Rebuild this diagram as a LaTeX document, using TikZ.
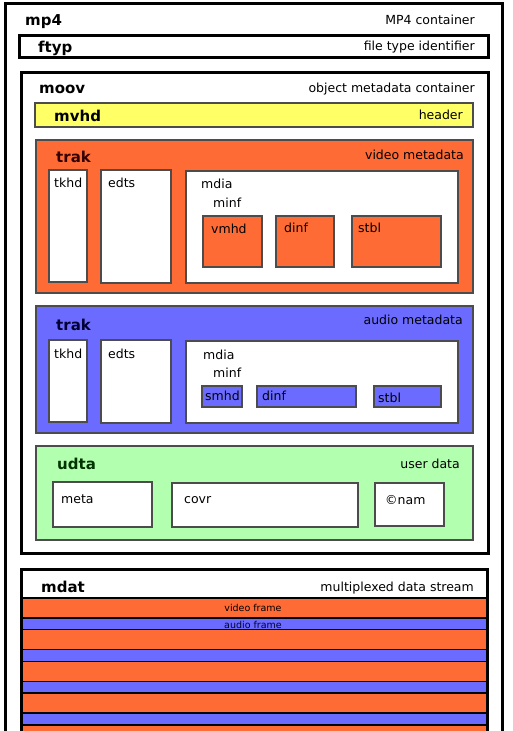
\documentclass[tikz,border=0pt]{standalone}
\usepackage{fontspec}
\setmainfont{DejaVu Sans}
\usepackage{tikz}
\definecolor{vidorange}{HTML}{FF6B35}
\definecolor{audblue}{HTML}{6B6BFF}
\definecolor{usrgreen}{HTML}{B3FFB0}
\definecolor{hdyellow}{HTML}{FFFF66}

\begin{document}
\begin{tikzpicture}[x=1pt,y=-1pt,
  outerbox/.style={draw=black,line width=3pt,fill=white},
  innerbox/.style={draw=black!70,line width=1.2pt},
  boxtitle/.style={anchor=base west,inner sep=0pt,font=\fontsize{15}{15}\selectfont\bfseries},
  subtitle/.style={anchor=base west,inner sep=0pt,font=\fontsize{12.5}{12.5}\selectfont},
  boxdesc/.style={anchor=base east,inner sep=0pt,font=\fontsize{12.5}{12.5}\selectfont},
  framelbl/.style={anchor=base,inner sep=0pt,font=\fontsize{9.5}{9.5}\selectfont}]
\useasboundingbox (0,0) rectangle (512,731);
\clip (0,0) rectangle (512,731);

% mp4 container
\draw[outerbox] (5,3) rectangle (502,760);
\node[boxtitle] (mp4) at (25,25) {mp4};
\node[boxdesc] (mp4desc) at (475,24) {MP4 container};

% ftyp
\draw[outerbox] (19,35) rectangle (488,57);
\node[boxtitle] (ftyp) at (38,52) {ftyp};
\node[boxdesc] (ftypdesc) at (475,50) {file type identifier};

% moov
\draw[outerbox] (21,72) rectangle (488,553);
\node[boxtitle] (moov) at (39,93) {moov};
\node[boxdesc] (moovdesc) at (475,92) {object metadata container};

% mvhd
\draw[innerbox,fill=hdyellow] (35,103) rectangle (473,127);
\node[boxtitle] (mvhd) at (54,121) {mvhd};
\node[boxdesc] (mvhddesc) at (463,119) {header};

% video trak
\draw[innerbox,fill=vidorange] (36,140) rectangle (473,293);
\node[boxtitle,text=black!80!red] (vtrak) at (56,162) {trak};
\node[boxdesc] (vtrakdesc) at (464,159) {video metadata};
\draw[innerbox,fill=white] (49,170) rectangle (87,282);
\node[subtitle] (vtkhd) at (54,187) {tkhd};
\draw[innerbox,fill=white] (101,170) rectangle (171,283);
\node[subtitle] (vedts) at (108,187) {edts};
\draw[innerbox,fill=white] (186,171) rectangle (458,283);
\node[subtitle] (vmdia) at (201,188) {mdia};
\node[subtitle] (vminf) at (213,207) {minf};
\draw[innerbox,fill=vidorange] (203,216) rectangle (262,267);
\node[subtitle] (vmhd) at (211,233) {vmhd};
\draw[innerbox,fill=vidorange] (276,216) rectangle (334,267);
\node[subtitle] (vdinf) at (284,232) {dinf};
\draw[innerbox,fill=vidorange] (352,216) rectangle (441,267);
\node[subtitle] (vstbl) at (358,232) {stbl};

% audio trak
\draw[innerbox,fill=audblue] (36,306) rectangle (473,433);
\node[boxtitle,text=black!80!blue] (atrak) at (56,330) {trak};
\node[boxdesc] (atrakdesc) at (463,324) {audio metadata};
\draw[innerbox,fill=white] (49,340) rectangle (87,422);
\node[subtitle] (atkhd) at (54,358) {tkhd};
\draw[innerbox,fill=white] (101,340) rectangle (171,423);
\node[subtitle] (aedts) at (108,358) {edts};
\draw[innerbox,fill=white] (186,341) rectangle (458,423);
\node[subtitle] (amdia) at (203,359) {mdia};
\node[subtitle] (aminf) at (213,377) {minf};
\draw[innerbox,fill=audblue] (202,386) rectangle (242,407);
\node[subtitle] (smhd) at (205,400) {smhd};
\draw[innerbox,fill=audblue] (257,386) rectangle (356,407);
\node[subtitle] (adinf) at (262,400) {dinf};
\draw[innerbox,fill=audblue] (374,386) rectangle (441,407);
\node[subtitle] (astbl) at (378,402) {stbl};

% udta
\draw[innerbox,fill=usrgreen] (36,446) rectangle (473,540);
\node[boxtitle,text=black!80!green] (udta) at (57,469) {udta};
\node[boxdesc] (udtadesc) at (460,468) {user data};
\draw[innerbox,fill=white] (53,482) rectangle (152,527);
\node[subtitle] (meta) at (61,503) {meta};
\draw[innerbox,fill=white] (172,483) rectangle (358,527);
\node[subtitle] (covr) at (184,503) {covr};
\draw[innerbox,fill=white] (375,483) rectangle (444,526);
\node[subtitle] (cnam) at (385,504) {©nam};

% mdat
\draw[outerbox] (21,569) rectangle (487,760);
\foreach \i [evaluate=\i as \y using 598+31.7*\i] in {0,...,4} {
  \draw[line width=1.5pt,fill=vidorange] (21,\y) rectangle (487,\y+20);
  \draw[line width=1.5pt,fill=audblue] (21,\y+20) rectangle (487,\y+31.7);
}
\draw[line width=3pt] (21,569) rectangle (487,760);
\node[boxtitle] (mdat) at (41,592) {mdat};
\node[boxdesc] (mdatdesc) at (474,591) {multiplexed data stream};
\node[framelbl] (vframe) at (253,611) {video frame};
\node[framelbl,text=black!80!blue] (aframe) at (253,628) {audio frame};
\end{tikzpicture}
\end{document}
